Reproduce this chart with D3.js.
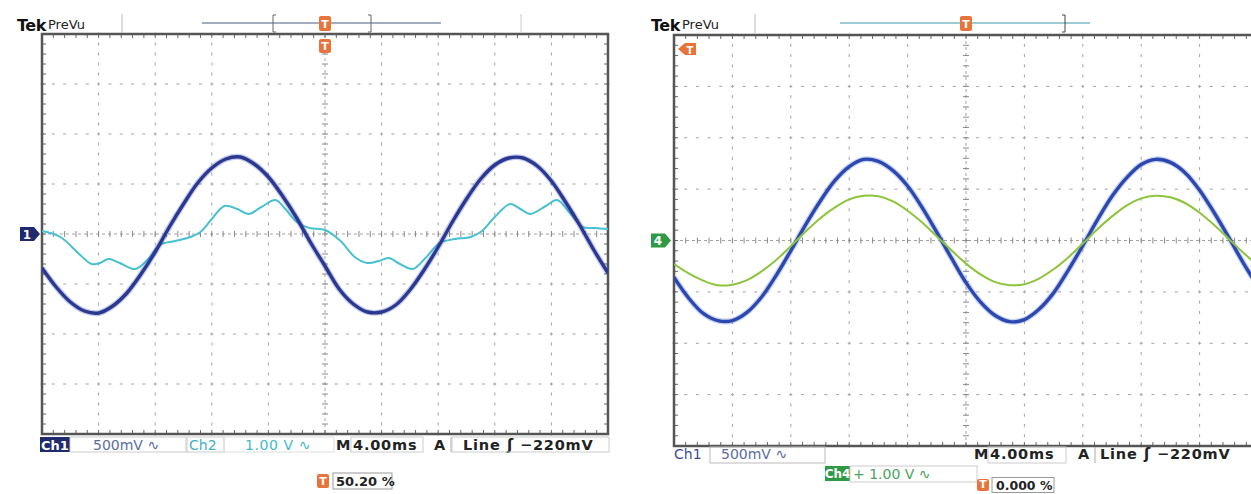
<!DOCTYPE html>
<html lang="en">
<head>
<meta charset="UTF-8" />
<title>scope captures</title>
<script src="https://cdn.jsdelivr.net/npm/d3@7"></script>
<style>
  body { margin: 0; background: #fff; }
  svg { display: block; font-family: "DejaVu Sans", sans-serif; }
</style>
</head>
<body>
<div class="scopes"></div>
<script>
"use strict";

// sample times in ms, relative to the trigger (4 ms/div, 10 div)
const sampleTimes = [-20, -19, -18, -17, -16, -15, -14, -13, -12, -11, -10, -9, -8, -7, -6, -5, -4, -3, -2, -1,
  0, 1, 2, 3, 4, 5, 6, 7, 8, 9, 10, 11, 12, 13, 14, 15, 16, 17, 18, 19, 20];

// left capture: Ch1 in volts (500 mV/div)
const leftCh1 = [-0.34, -0.53, -0.68, -0.77, -0.79, -0.72, -0.59, -0.40, -0.18, 0.07, 0.30, 0.51, 0.66, 0.75,
  0.77, 0.70, 0.57, 0.38, 0.16, -0.09, -0.32, -0.55, -0.70, -0.78, -0.78, -0.71, -0.56, -0.36, -0.13, 0.12,
  0.35, 0.55, 0.69, 0.76, 0.76, 0.68, 0.53, 0.32, 0.09, -0.16, -0.39];

// left capture: Ch2 in volts (1.00 V/div), read at its own times
const leftCh2Times = [-20.0, -18.7, -17.3, -16.5, -15.9, -15.3, -14.5, -13.4, -12.5, -11.7, -10.6, -9.5, -8.8,
  -8.0, -7.1, -6.2, -5.4, -4.5, -3.5, -2.8, -2.0, -1.1, 0.0, 1.1, 2.1, 3.0, 3.8, 4.5, 5.3, 6.2, 7.1, 8.1, 9.2,
  10.3, 11.1, 12.0, 13.1, 13.8, 14.5, 15.6, 16.4, 17.3, 18.2, 19.1, 20.0];
const leftCh2 = [0.06, -0.06, -0.42, -0.60, -0.58, -0.50, -0.58, -0.70, -0.50, -0.22, -0.14, -0.06, 0.04,
  0.30, 0.56, 0.50, 0.40, 0.54, 0.68, 0.50, 0.24, 0.12, 0.08, -0.14, -0.46, -0.58, -0.54, -0.48, -0.60,
  -0.70, -0.48, -0.18, -0.10, -0.06, 0.06, 0.34, 0.60, 0.50, 0.40, 0.56, 0.68, 0.42, 0.14, 0.12, 0.10];

// right capture: Ch1 (500 mV/div) and Ch4 (1.00 V/div), volts
const rightCh1 = [-0.36, -0.56, -0.71, -0.78, -0.78, -0.70, -0.55, -0.34, -0.10, 0.15, 0.38, 0.58, 0.72, 0.79,
  0.77, 0.68, 0.53, 0.32, 0.08, -0.17, -0.41, -0.60, -0.73, -0.79, -0.77, -0.67, -0.51, -0.29, -0.05, 0.20,
  0.43, 0.61, 0.74, 0.79, 0.76, 0.66, 0.49, 0.27, 0.03, -0.22, -0.45];
const rightCh4 = [-0.46, -0.64, -0.78, -0.87, -0.86, -0.77, -0.60, -0.38, -0.11, 0.17, 0.43, 0.64, 0.80, 0.87,
  0.86, 0.76, 0.58, 0.35, 0.08, -0.19, -0.45, -0.66, -0.81, -0.87, -0.85, -0.74, -0.56, -0.33, -0.06, 0.22,
  0.47, 0.68, 0.82, 0.87, 0.84, 0.73, 0.54, 0.30, 0.03, -0.24, -0.49];

const timeDomain = [-20, 20];
const divDomain = [-4, 4];

const W = 1251, H = 494;
const svg = d3.select(".scopes").append("svg")
  .attr("width", W).attr("height", H).attr("viewBox", [0, 0, W, H]);

function drawScreen(id, box) {
  const x = d3.scaleLinear().domain(timeDomain).range([box.x0, box.x1]);
  const y = d3.scaleLinear().domain(divDomain).range([box.y1, box.y0]);
  const g = svg.append("g").attr("class", "screen-" + id);

  svg.append("clipPath").attr("id", "clip-" + id)
    .append("rect")
    .attr("x", box.x0).attr("y", box.y0)
    .attr("width", box.x1 - box.x0).attr("height", box.y1 - box.y0);

  const minorT = d3.range(-20, 20.01, 0.8);
  const minorD = d3.range(-4, 4.001, 0.2);
  const gridT = [-16, -12, -8, -4, 4, 8, 12, 16];
  const gridD = [-3, -2, -1, 1, 2, 3];

  const grid = g.append("g").attr("stroke", "#a0a0a0").attr("stroke-width", 1);

  // dotted vertical gridlines
  gridT.forEach((t) => {
    grid.selectAll(null).data(minorD).enter().append("line")
      .attr("x1", x(t)).attr("x2", x(t))
      .attr("y1", (d) => y(d) - 1.5).attr("y2", (d) => y(d) + 1.5);
  });
  // dotted horizontal gridlines
  gridD.forEach((v) => {
    grid.selectAll(null).data(minorT).enter().append("line")
      .attr("y1", y(v)).attr("y2", y(v))
      .attr("x1", (d) => x(d) - 1.5).attr("x2", (d) => x(d) + 1.5);
  });

  // centre cross with ticks
  const cross = g.append("g").attr("stroke", "#8a8a8a");
  cross.append("line").attr("x1", box.x0).attr("x2", box.x1)
    .attr("y1", y(0)).attr("y2", y(0)).attr("stroke-dasharray", "3,3").attr("stroke-width", 0.8);
  cross.append("line").attr("y1", box.y0).attr("y2", box.y1)
    .attr("x1", x(0)).attr("x2", x(0)).attr("stroke-dasharray", "3,3").attr("stroke-width", 0.8);
  cross.selectAll(null).data(minorT).enter().append("line")
    .attr("x1", (d) => x(d)).attr("x2", (d) => x(d))
    .attr("y1", y(0) - 3).attr("y2", y(0) + 3).attr("stroke-width", 1);
  cross.selectAll(null).data(minorD).enter().append("line")
    .attr("y1", (d) => y(d)).attr("y2", (d) => y(d))
    .attr("x1", x(0) - 3).attr("x2", x(0) + 3).attr("stroke-width", 1);

  // border ticks
  const edge = g.append("g").attr("stroke", "#666").attr("stroke-width", 1);
  edge.selectAll(null).data(minorT).enter().append("line")
    .attr("x1", (d) => x(d)).attr("x2", (d) => x(d))
    .attr("y1", box.y0).attr("y2", box.y0 + 4);
  edge.selectAll(null).data(minorT).enter().append("line")
    .attr("x1", (d) => x(d)).attr("x2", (d) => x(d))
    .attr("y1", box.y1).attr("y2", box.y1 - 4);
  edge.selectAll(null).data(minorD).enter().append("line")
    .attr("y1", (d) => y(d)).attr("y2", (d) => y(d))
    .attr("x1", box.x0).attr("x2", box.x0 + 4);
  edge.selectAll(null).data(minorD).enter().append("line")
    .attr("y1", (d) => y(d)).attr("y2", (d) => y(d))
    .attr("x1", box.x1).attr("x2", box.x1 - 4);

  g.append("rect")
    .attr("x", box.x0).attr("y", box.y0)
    .attr("width", box.x1 - box.x0).attr("height", box.y1 - box.y0)
    .attr("fill", "none").attr("stroke", "#555").attr("stroke-width", 2.5);

  return { x, y, g };
}

function drawTrace(scr, id, times, volts, voltsPerDiv, color, width, halo) {
  const line = d3.line()
    .x((d, i) => scr.x(times[i]))
    .y((d) => scr.y(d / voltsPerDiv))
    .curve(d3.curveCatmullRom);
  const tg = scr.g.append("g").attr("clip-path", "url(#clip-" + id + ")");
  if (halo) {
    tg.append("path").datum(volts).attr("d", line)
      .attr("fill", "none").attr("stroke", halo).attr("stroke-width", width + 2.5)
      .attr("stroke-opacity", 0.3).attr("stroke-linejoin", "round");
  }
  tg.append("path").datum(volts).attr("d", line)
    .attr("fill", "none").attr("stroke", color).attr("stroke-width", width)
    .attr("stroke-linejoin", "round");
}

function label(x, y, str, opts = {}) {
  return svg.append("text").attr("x", x).attr("y", y)
    .attr("fill", opts.fill || "#222")
    .style("font-size", (opts.size || 14) + "px")
    .style("font-weight", opts.bold ? "bold" : "normal")
    .style("letter-spacing", (opts.ls || 0) + "px")
    .attr("text-anchor", opts.anchor || "start")
    .text(str);
}

function outline(x, y, w, h, color) {
  svg.append("rect").attr("x", x).attr("y", y).attr("width", w).attr("height", h)
    .attr("fill", "none").attr("stroke", color || "#bbb").attr("stroke-width", 1);
}

function channelTag(x, yc, txt, fill) {
  svg.append("path")
    .attr("d", `M${x},${yc - 7} h14 l6,7 l-6,7 h-14 z`)
    .attr("fill", fill);
  label(x + 7, yc + 4.5, txt, { fill: "#fff", size: 12, bold: true, anchor: "middle" });
}

function trigT(xc, y0, h) {
  svg.append("rect").attr("x", xc - 6).attr("y", y0).attr("width", 12).attr("height", h)
    .attr("rx", 2).attr("fill", "#e8743b");
  label(xc, y0 + h - 3, "T", { fill: "#fff", size: 11, bold: true, anchor: "middle" });
}

const boldTxt = { fill: "#222", size: 14.5, bold: true, ls: 0.8 };

// ---------- left screen ----------
const left = drawScreen("l", { x0: 42, x1: 608, y0: 34, y1: 434 });
drawTrace(left, "l", leftCh2Times, leftCh2, 1.0, "#45c1d2", 2, null);
drawTrace(left, "l", sampleTimes, leftCh1, 0.5, "#2a3892", 3.4, "#3a4fb0");

label(17, 31, "Tek", { size: 16, bold: true, fill: "#111", ls: -0.5 });
label(48, 29, "PreVu", { size: 13, fill: "#222" });
svg.append("line").attr("x1", 122).attr("x2", 122).attr("y1", 14).attr("y2", 33).attr("stroke", "#bbb");
svg.append("line").attr("x1", 521).attr("x2", 521).attr("y1", 14).attr("y2", 33).attr("stroke", "#ccc");
svg.append("line").attr("x1", 202).attr("x2", 441).attr("y1", 23).attr("y2", 23).attr("stroke", "#4a5a80").attr("stroke-width", 1.2);
svg.append("path").attr("d", "M276,15 h-3 v17 h3").attr("fill", "none").attr("stroke", "#666");
svg.append("path").attr("d", "M368,15 h3 v17 h-3").attr("fill", "none").attr("stroke", "#666");
trigT(left.x(0), 16, 15);
trigT(left.x(0), 39, 14);
channelTag(20, left.y(0), "1", "#1f2b6e");

svg.append("rect").attr("x", 40).attr("y", 437).attr("width", 30).attr("height", 15).attr("fill", "#1f2b6e");
label(55, 449.5, "Ch1", { fill: "#fff", size: 13, bold: true, anchor: "middle" });
outline(70, 437, 116, 15, "#ccc");
label(93, 449.5, "500mV \u223F", { fill: "#5b6da3", size: 14 });
outline(187, 437, 37, 15, "#ccc");
label(189, 449.5, "Ch2", { fill: "#3fb0c2", size: 14 });
outline(224, 437, 110, 15, "#ddd");
label(245, 449.5, "1.00 V \u223F", { fill: "#3fb8cc", size: 14, ls: 0.6 });
label(336, 449.5, "M", boldTxt);
outline(351, 437, 72, 15, "#ccc");
label(353, 449.5, "4.00ms", boldTxt);
label(434, 449.5, "A", boldTxt);
svg.append("line").attr("x1", 451).attr("x2", 451).attr("y1", 437).attr("y2", 452).attr("stroke", "#aaa");
label(463, 449.5, "Line", boldTxt);
label(507, 449.5, "\u0283", { fill: "#222", size: 15, bold: true });
label(520, 449.5, "\u2212220mV", boldTxt);
outline(452, 437, 157, 15, "#ccc");

trigT(323, 474, 14);
outline(333, 473, 59, 16, "#999");
label(336, 486, "50.20 %", { fill: "#222", size: 13, bold: true });

// ---------- right screen ----------
const right = drawScreen("r", { x0: 674, x1: 1258, y0: 35, y1: 446 });
drawTrace(right, "r", sampleTimes, rightCh1, 0.5, "#2c48ae", 3.4, "#4a6fd6");
drawTrace(right, "r", sampleTimes, rightCh4, 1.0, "#8cc43a", 2, null);

label(651, 31, "Tek", { size: 16, bold: true, fill: "#111", ls: -0.5 });
label(682, 29, "PreVu", { size: 13, fill: "#222" });
svg.append("line").attr("x1", 755).attr("x2", 755).attr("y1", 14).attr("y2", 33).attr("stroke", "#bbb");
svg.append("line").attr("x1", 840).attr("x2", 1090).attr("y1", 23).attr("y2", 23).attr("stroke", "#3b98a8").attr("stroke-width", 1.2);
svg.append("path").attr("d", "M1062,15 h3 v17 h-3").attr("fill", "none").attr("stroke", "#444");
trigT(right.x(0), 16, 15);
svg.append("path").attr("d", "M678,49 l7,-6 h11 v12 h-11 z").attr("fill", "#e8743b");
label(690, 53.5, "T", { fill: "#fff", size: 10, bold: true, anchor: "middle" });
channelTag(651, right.y(0), "4", "#2f9a45");

label(674, 459, "Ch1", { fill: "#3a4d99", size: 14 });
outline(710, 447, 115, 16, "#bbb");
label(721, 459, "500mV \u223F", { fill: "#5b6da3", size: 14 });
label(974, 459, "M", boldTxt);
outline(988, 447, 78, 16, "#ccc");
label(990, 459, "4.00ms", boldTxt);
label(1078, 459, "A", boldTxt);
svg.append("line").attr("x1", 1095).attr("x2", 1095).attr("y1", 447).attr("y2", 463).attr("stroke", "#aaa");
label(1100, 459, "Line", boldTxt);
label(1144, 459, "\u0283", { fill: "#222", size: 15, bold: true });
label(1157, 459, "\u2212220mV", boldTxt);

svg.append("rect").attr("x", 825).attr("y", 466).attr("width", 25).attr("height", 15).attr("fill", "#2f9a45");
label(837.5, 478, "Ch4", { fill: "#fff", size: 12, bold: true, anchor: "middle" });
outline(850, 466, 127, 16, "#ccc");
label(853, 478.5, "+ 1.00 V \u223F", { fill: "#4aa35a", size: 14 });

trigT(983, 479, 12);
outline(992, 477.5, 62, 15, "#999");
label(996, 489.5, "0.000 %", { fill: "#222", size: 12.5, bold: true });
</script>
</body>
</html>
